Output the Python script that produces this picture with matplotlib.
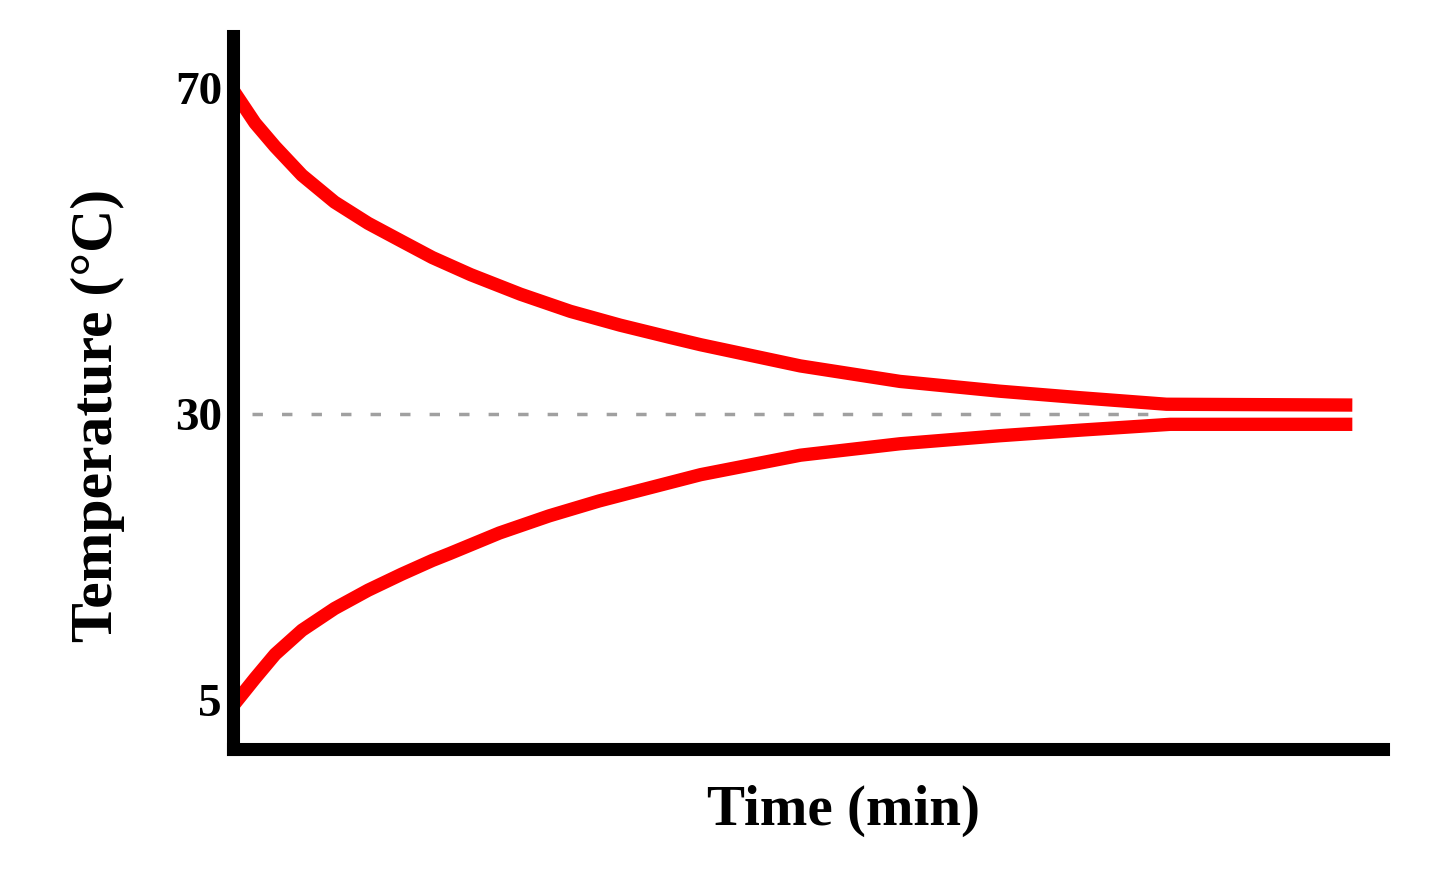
import numpy as np
import matplotlib
matplotlib.use("Agg")
import matplotlib.pyplot as plt

# readings off the schematic (time in min, temperature in degC)
time_hot = [0, 1.15, 2.2, 3.6, 5.3, 7.05, 8.8, 10.4, 12.4, 15.0, 17.6, 20.2,
            22.8, 24.4, 29.6, 34.8, 40.0, 44.2, 48.7, 58.4]
temp_hot = [69.75, 65.7, 62.8, 59.3, 56.0, 53.4, 51.2, 49.2, 47.1, 44.7, 42.6, 40.9,
            39.4, 38.5, 35.9, 34.0, 32.8, 32.0, 31.2, 31.1]

time_cold = [0, 1.15, 2.2, 3.6, 5.3, 7.05, 8.8, 10.4, 11.3, 13.9, 16.5, 19.1,
             20.7, 24.4, 29.6, 34.8, 40.0, 44.3, 48.9, 58.4]
temp_cold = [4.5, 6.9, 9.0, 11.1, 13.0, 14.6, 16.0, 17.2, 17.8, 19.6, 21.1, 22.4,
             23.1, 24.7, 26.4, 27.4, 28.1, 28.6, 29.1, 29.1]

final_temp = 30
dash_span = [1, 48.5]
y_ticks = [5, 30, 70]


# the drawing is not to scale: the band below 30 is stretched
def forward(y):
    y = np.asarray(y, dtype=float)
    return np.where(y < 30, (y - 30) * 286 / 25, (y - 30) * 326 / 40)


def inverse(u):
    u = np.asarray(u, dtype=float)
    return np.where(u < 0, u * 25 / 286 + 30, u * 40 / 326 + 30)


fig = plt.figure(figsize=(14.4, 8.73), dpi=100)
ax = fig.add_axes([233 / 1440, 124 / 873, 1150 / 1440, 713 / 873])

ax.set_yscale("function", functions=(forward, inverse))
ax.set_ylim(0.72, 76.38)
ax.set_xlim(0, 60)

ax.hlines(final_temp, dash_span[0], dash_span[1], colors="#a0a0a0",
          linewidth=2.5, linestyles=(0, (3, 5.5)), zorder=1)
ax.plot(time_hot, temp_hot, color="#ff0000", linewidth=9.6,
        solid_capstyle="butt", solid_joinstyle="round", zorder=2)
ax.plot(time_cold, temp_cold, color="#ff0000", linewidth=9.6,
        solid_capstyle="butt", solid_joinstyle="round", zorder=2)

for side in ["top", "right"]:
    ax.spines[side].set_visible(False)
for side in ["left", "bottom"]:
    ax.spines[side].set_linewidth(9.4)
    ax.spines[side].set_capstyle("projecting")
    ax.spines[side].set_zorder(3)

font = {"family": "Liberation Serif", "weight": "bold"}
ax.set_xticks([])
ax.set_yticks(y_ticks)
ax.set_yticklabels([str(v) for v in y_ticks], fontdict=dict(font, size=34))
ax.tick_params(axis="y", length=0, pad=8)

ax.set_xlabel("Time (min)", fontdict=dict(font, size=41))
ax.xaxis.set_label_coords(0.531, -0.05)
ax.set_ylabel("Temperature (°C)", fontdict=dict(font, size=43))
ax.yaxis.set_label_coords(-0.094, 0.468)

fig.savefig("out.png", dpi=100, facecolor="white")
